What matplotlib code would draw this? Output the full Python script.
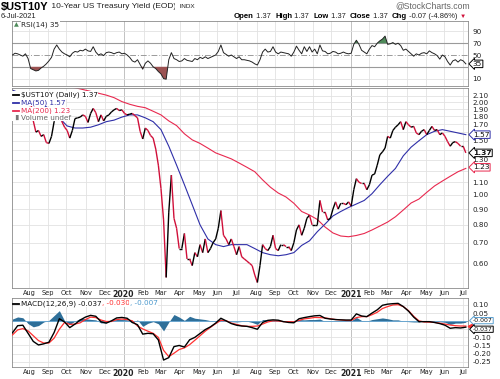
import numpy as np
import pandas as pd
import matplotlib
matplotlib.use('Agg')
import matplotlib.pyplot as plt
from matplotlib.collections import LineCollection
from matplotlib.lines import Line2D
from matplotlib.patches import Rectangle
from matplotlib.ticker import FixedLocator, NullLocator, FixedFormatter

W, H = 500, 379

# trading days shown on the x axis
days = pd.bdate_range('2019-07-05', '2021-07-06')

# closes, every 3rd trading day
price = [2.03, 2.07, 2.10, 2.06, 2.08, 2.05, 2.06, 2.02,
         1.74, 1.60, 1.62, 1.55, 1.57, 1.48, 1.47, 1.55,
         1.73, 1.88, 1.80, 1.73, 1.66, 1.62, 1.53, 1.62,
         1.77, 1.78, 1.79, 1.82, 1.80, 1.72, 1.84, 1.91,
         1.85, 1.73, 1.82, 1.74, 1.80, 1.82, 1.86, 1.89,
         1.91, 1.88, 1.89, 1.84, 1.82, 1.83, 1.84, 1.81,
         1.78, 1.61, 1.52, 1.65, 1.62, 1.56, 1.53, 1.41,
         1.25, 1.05, 0.83, 0.54, 0.88, 1.16, 0.84, 0.78,
         0.67, 0.67, 0.75, 0.62, 0.62, 0.59, 0.65, 0.63,
         0.69, 0.65, 0.72, 0.65, 0.67, 0.70, 0.72, 0.78,
         0.89, 0.74, 0.72, 0.69, 0.72, 0.68, 0.64, 0.68,
         0.63, 0.62, 0.61, 0.60, 0.59, 0.55, 0.52, 0.59,
         0.69, 0.67, 0.66, 0.68, 0.74, 0.67, 0.66, 0.69,
         0.69, 0.68, 0.68, 0.66, 0.70, 0.77, 0.80, 0.74,
         0.78, 0.84, 0.86, 0.80, 0.80, 0.80, 0.96, 0.88,
         0.88, 0.83, 0.84, 0.90, 0.95, 0.90, 0.94, 0.94,
         0.93, 0.95, 0.92, 1.04, 1.13, 1.10, 1.09, 1.09,
         1.04, 1.08, 1.16, 1.17, 1.25, 1.35, 1.38, 1.42,
         1.55, 1.53, 1.62, 1.66, 1.69, 1.73, 1.63, 1.73,
         1.69, 1.66, 1.67, 1.59, 1.57, 1.61, 1.63, 1.57,
         1.62, 1.67, 1.62, 1.63, 1.57, 1.59, 1.55, 1.49,
         1.44, 1.48, 1.49, 1.47, 1.44, 1.44, 1.37]

# RSI(14), every 3rd trading day
rsi = [50, 53, 52, 50, 48, 52, 44, 27,
       25, 23, 24, 28, 31, 35, 40, 46,
       60, 67, 60, 55, 52, 50, 47, 53,
       56, 55, 58, 57, 60, 57, 56, 64,
       55, 50, 52, 49, 54, 55, 54, 52,
       54, 55, 52, 53, 50, 46, 40, 38,
       42, 34, 26, 36, 40, 36, 30, 27,
       22, 18, 10, 9, 42, 54, 44, 42,
       39, 40, 44, 41, 40, 39, 44, 42,
       46, 44, 47, 44, 46, 48, 50, 56,
       67, 54, 51, 48, 50, 47, 44, 47,
       42, 42, 41, 40, 38, 35, 33, 42,
       55, 60, 55, 56, 64, 55, 52, 55,
       54, 53, 52, 48, 55, 65, 58, 52,
       64, 56, 64, 55, 60, 52, 67, 57,
       56, 52, 53, 56, 55, 52, 53, 55,
       53, 52, 53, 68, 75, 68, 58, 55,
       52, 60, 66, 64, 70, 74, 77, 82,
       68, 69, 71, 68, 70, 66, 58, 60,
       56, 52, 48, 52, 50, 53, 54, 52,
       57, 54, 52, 49, 43, 50, 47, 39,
       33, 40, 42, 38, 42, 40, 35]

# moving averages, every 9th trading day
ma50 = [2.19, 2.14, 2.09, 2.03, 1.96, 1.88, 1.78, 1.675, 1.65, 1.65,
        1.66, 1.69, 1.73, 1.75, 1.79, 1.82, 1.82, 1.78, 1.73, 1.63,
        1.44, 1.25, 1.08, 0.93, 0.80, 0.72, 0.69, 0.68, 0.69, 0.69,
        0.69, 0.67, 0.65, 0.64, 0.635, 0.64, 0.65, 0.686, 0.71, 0.76,
        0.805, 0.855, 0.884, 0.911, 0.935, 0.96, 1.01, 1.08, 1.15, 1.22,
        1.34, 1.43, 1.50, 1.57, 1.61, 1.63, 1.61, 1.59, 1.57]
ma200 = [2.45, 2.42, 2.40, 2.37, 2.34, 2.31, 2.28, 2.25, 2.23, 2.20,
         2.17, 2.14, 2.11, 2.07, 2.01, 1.97, 1.94, 1.92, 1.87, 1.82,
         1.74, 1.68, 1.58, 1.51, 1.47, 1.42, 1.37, 1.34, 1.31, 1.27,
         1.23, 1.19, 1.12, 1.06, 1.015, 0.985, 0.94, 0.884, 0.861, 0.833,
         0.787, 0.753, 0.736, 0.732, 0.739, 0.750, 0.77, 0.793, 0.817, 0.85,
         0.894, 0.942, 0.97, 1.02, 1.07, 1.11, 1.15, 1.19, 1.22]

# MACD(12,26,9) and signal, every 6th trading day
macd = [-0.072, -0.028, -0.025, -0.075, -0.125, -0.147, -0.140, -0.130, -0.070, 0.015,
        -0.005, -0.040, -0.018, 0.007, 0.025, 0.036, 0.030, -0.004, -0.012, 0.002,
        0.020, 0.023, 0.018, -0.008, -0.022, -0.080, -0.075, -0.078, -0.116, -0.240,
        -0.225, -0.157, -0.150, -0.160, -0.115, -0.100, -0.076, -0.052, -0.035, -0.012,
        0.018, 0.002, -0.015, -0.025, -0.030, -0.032, -0.040, -0.050, -0.008, 0.005,
        0.008, 0.006, -0.003, -0.008, -0.010, 0.015, 0.022, 0.028, 0.033, 0.035,
        0.018, 0.013, 0.010, 0.008, 0.007, 0.007, 0.045, 0.032, 0.028, 0.050,
        0.070, 0.098, 0.105, 0.108, 0.110, 0.090, 0.062, 0.025, -0.003, -0.003,
        -0.003, -0.008, -0.015, -0.025, -0.044, -0.040, -0.042, -0.037]
signal = [-0.085, -0.054, -0.046, -0.060, -0.090, -0.120, -0.135, -0.135, -0.105, -0.050,
          -0.008, -0.020, -0.018, -0.010, 0.010, 0.025, 0.022, 0.007, -0.002, -0.002,
          0.010, 0.013, 0.010, 0.002, -0.030, -0.048, -0.062, -0.075, -0.100, -0.180,
          -0.219, -0.198, -0.175, -0.165, -0.145, -0.118, -0.090, -0.062, -0.038, -0.015,
          0.005, 0.003, -0.012, -0.020, -0.028, -0.032, -0.032, -0.030, -0.018, -0.005,
          0.002, 0.001, -0.003, -0.003, -0.004, 0.005, 0.014, 0.018, 0.023, 0.022,
          0.020, 0.015, 0.010, 0.008, 0.004, 0.004, 0.022, 0.028, 0.028, 0.040,
          0.055, 0.078, 0.090, 0.100, 0.102, 0.090, 0.065, 0.030, 0.002, -0.005,
          -0.006, -0.008, -0.012, -0.018, -0.024, -0.028, -0.030, -0.030]

x3 = np.arange(len(days))[::3]
x6 = np.arange(len(days))[::6]
x9 = np.arange(len(days))[::9]
price = np.array(price); rsi = np.array(rsi)
macd = np.array(macd); signal = np.array(signal)

c_blue = '#2f2fa8'
c_red = '#e8294f'
c_grid = '#e2e2e2'
c_spine = '#8a8a8a'
fs = 4.8

fig = plt.figure(figsize=(W / 100, H / 100), dpi=100)
fig.patch.set_facecolor('white')


def rect(top, bottom):
    return [12 / W, 1 - bottom / H, 456 / W, (bottom - top) / H]


ax_rsi = fig.add_axes(rect(21, 86))
ax = fig.add_axes(rect(88, 288))
ax_m = fig.add_axes(rect(298, 367))

# month grid and labels
mpos = [i for i in range(1, len(days)) if days[i].month != days[i - 1].month]
mlab = [str(days[i].year) if days[i].month == 1 else days[i].strftime('%b') for i in mpos]
xlim = (-0.5, len(days) + 1.5)

for a in (ax_rsi, ax, ax_m):
    a.set_xlim(*xlim)
    for p, l in zip(mpos, mlab):
        a.axvline(p, color='#b8b8b8' if l.isdigit() else c_grid, lw=0.6, zorder=0)
    for s in a.spines.values():
        s.set_color(c_spine)
        s.set_linewidth(0.6)
    a.yaxis.tick_right()
    a.tick_params(axis='y', length=0, labelsize=fs + 0.4, pad=3, colors='#222')
    a.tick_params(axis='x', length=0, labelsize=fs, pad=1.5, colors='#222')
    a.set_xticks(mpos)
    a.set_xticklabels(mlab)
    for t in a.get_xticklabels():
        if t.get_text().isdigit():
            t.set_fontweight('bold')
            t.set_fontsize(fs + 0.8)
ax_rsi.set_xticklabels([])

# ---- price panel
ax.set_yscale('log')
ax.set_ylim(0.499, 2.225)
yt = [0.6, 0.7, 0.8, 0.9, 1.0, 1.1, 1.2, 1.3, 1.4, 1.5, 1.6, 1.7, 1.8, 1.9, 2.0, 2.1]
ax.yaxis.set_major_locator(FixedLocator(yt))
ax.yaxis.set_minor_locator(NullLocator())
ax.yaxis.set_major_formatter(FixedFormatter(
    ['' if v in (1.2, 1.4, 1.6) else '%.2f' % v for v in yt]))
for v in yt:
    ax.axhline(v, color=c_grid, lw=0.6, zorder=0)

ax.plot(x9, ma200, color=c_red, lw=0.8, zorder=2)
ax.plot(x9, ma50, color=c_blue, lw=0.8, zorder=2)
pts = np.column_stack([x3, price])
segs = np.stack([pts[:-1], pts[1:]], axis=1)
cols = ['#d0103a' if d < 0 else 'black' for d in np.diff(price)]
ax.add_collection(LineCollection(segs, colors=cols, lw=1.0, zorder=3))

# ---- RSI panel
ax_rsi.set_ylim(-2.5, 107.6)
ax_rsi.set_yticks([10, 50, 70, 90])
ax_rsi.axhline(70, color='#9a9a9a', lw=0.8, zorder=1)
ax_rsi.axhline(30, color='#9a9a9a', lw=0.8, zorder=1)
ax_rsi.axhline(50, color='#9a9a9a', lw=0.7, ls=(0, (6, 2, 1, 2)), zorder=1)
for v in (10, 90):
    ax_rsi.axhline(v, color=c_grid, lw=0.6, zorder=0)
ax_rsi.fill_between(x3, rsi, 70, where=rsi > 70, interpolate=True, color='#4e8a5a', lw=0, zorder=2)
ax_rsi.fill_between(x3, rsi, 30, where=rsi < 30, interpolate=True, color='#9b5252', lw=0, zorder=2)
ax_rsi.plot(x3, rsi, color='#222', lw=0.7, zorder=3)

# ---- MACD panel
ax_m.set_ylim(-0.283, 0.143)
mt = [-0.25, -0.2, -0.15, -0.1, -0.05, 0.0, 0.05, 0.1]
ax_m.set_yticks(mt)
ax_m.set_yticklabels(['' if v in (0.0, -0.05) else '%.2f' % v for v in mt])
for v in mt:
    ax_m.axhline(v, color=c_grid, lw=0.6, zorder=0)
ax_m.fill_between(x6, macd - signal, 0, color='#2e6f99', lw=0, zorder=2)
ax_m.axhline(0, color='#6aa6cf', lw=0.7, zorder=2)
ax_m.plot(x6, signal, color='#ff3030', lw=0.9, zorder=3)
ax_m.plot(x6, macd, color='black', lw=1.0, zorder=4)


# right-edge value tags
def tag(a, val, txt, ec, bold=False, size=fs + 0.6, dy=0):
    a.annotate(txt, xy=(1, val), xycoords=('axes fraction', 'data'),
               xytext=(3.5, dy), textcoords='offset points', va='center', ha='left',
               fontsize=size, fontweight='bold' if bold else 'normal', color='#111',
               bbox=dict(boxstyle='larrow,pad=0.1', fc='white', ec=ec, lw=0.7),
               annotation_clip=False, zorder=10)


tag(ax, 1.57, '1.57', c_blue)
tag(ax, 1.37, '1.37', 'black', bold=True)
tag(ax, 1.23, '1.23', c_red)
tag(ax_rsi, 35, '35', 'black')
ax_m.plot([1.004], [-0.030], marker='<', ms=3.5, color='#ff3030', transform=ax_m.get_yaxis_transform(),
          clip_on=False, zorder=9)
tag(ax_m, -0.007, '-0.007', '#5aa0d0', size=4.4, dy=1.2)
tag(ax_m, -0.037, '-0.037', 'black', size=4.4, dy=-1.5)

# ---- header and legends
r = fig.canvas.get_renderer()


def seq(x, y, parts, family='DejaVu Sans'):
    for s, c, w, size in parts:
        t = fig.text(x / W, 1 - y / H, s, color=c, fontweight=w, fontsize=size,
                     va='center', ha='left', family=family, zorder=20,
                     bbox=dict(fc='white', ec='none', pad=0.3))
        x += t.get_window_extent(renderer=r).width


seq(1, 7, [('$UST10Y', 'black', 'bold', 7.9), (' 10-Year US Treasury Yield (EOD)', '#222', 'normal', 6.0),
           ('  INDX', '#222', 'normal', 4.6)], family='Liberation Sans')
fig.text(1 / W, 1 - 16 / H, '6-Jul-2021', fontsize=5.4, color='#222', va='center', family='Liberation Sans')
fig.text(470 / W, 1 - 6 / H, '@StockCharts.com', fontsize=6.2, color='#666', va='center', ha='right',
         family='Liberation Sans')
seq(234, 16, [('Open', 'black', 'bold', 5.6), (' 1.37  ', '#222', 'normal', 5.4),
              ('High', 'black', 'bold', 5.6), (' 1.37  ', '#222', 'normal', 5.4),
              ('Low', 'black', 'bold', 5.6), (' 1.37  ', '#222', 'normal', 5.4),
              ('Close', 'black', 'bold', 5.6), (' 1.37  ', '#222', 'normal', 5.4),
              ('Chg', 'black', 'bold', 5.6), (' -0.07 (-4.86%) ', '#222', 'normal', 5.4),
              ('\u25bc', '#d0103a', 'normal', 4.5)], family='Liberation Sans')

# RSI legend
fig.text(14 / W, 1 - 25 / H, '\u25b2', color='#4e8a5a', fontsize=4.5, va='center')
seq(21, 25, [('RSI(14) 35', '#222', 'normal', fs + 0.4)])

# price legend, white backing like the source
fig.add_artist(Rectangle((12.4 / W, 1 - 121 / H), 9 / W, 30 / H, transform=fig.transFigure,
                         fc='white', ec='none', zorder=19))
for y, c in ((95, 'black'), (102.7, c_blue), (110.5, c_red)):
    fig.add_artist(Line2D([13 / W, 18.5 / W], [1 - y / H] * 2, color=c, lw=1.3, zorder=21))
fig.text(13 / W, 1 - 117 / H, '\u2590\u258c', color='#777', fontsize=3.5, va='center', zorder=21)
seq(21, 95, [('$UST10Y (Daily) 1.37', '#111', 'normal', fs + 0.4)])
seq(21, 102.7, [('MA(50) 1.57', c_blue, 'normal', fs + 0.4)])
seq(21, 110.5, [('MA(200) 1.23', c_red, 'normal', fs + 0.4)])
seq(21, 117.5, [('Volume undef', '#666', 'normal', fs + 0.4)])

# MACD legend
fig.add_artist(Line2D([13 / W, 18.5 / W], [1 - 303.5 / H] * 2, color='black', lw=1.3, zorder=21))
seq(21, 303.5, [('MACD(12,26,9) -0.037', '#111', 'normal', fs + 0.4),
                (', -0.030', '#ff3030', 'normal', fs + 0.4),
                (', -0.007', '#4a98cc', 'normal', fs + 0.4)])

fig.savefig('out.png', dpi=100, facecolor='white')
